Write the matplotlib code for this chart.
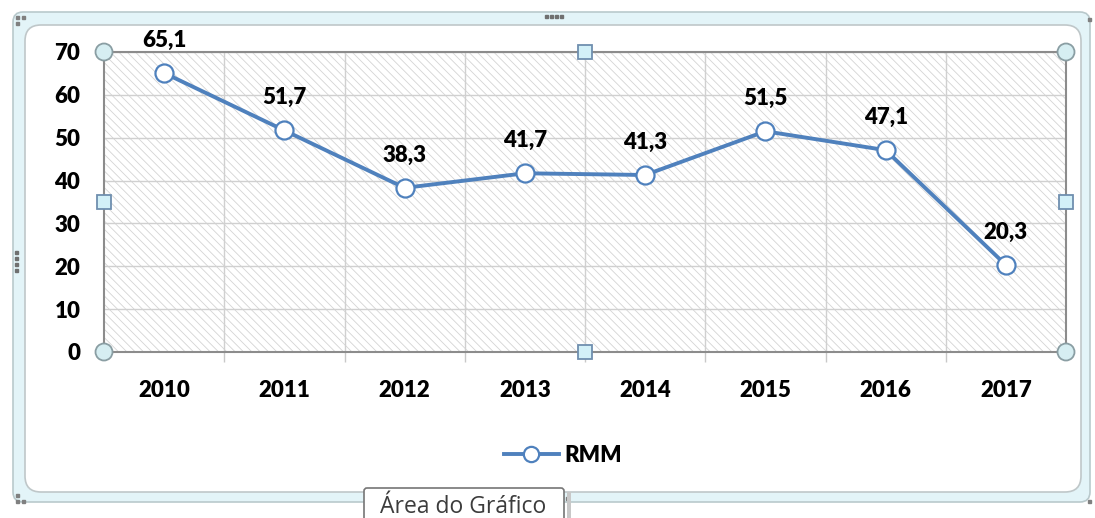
import matplotlib
matplotlib.use("Agg")
import matplotlib.pyplot as plt
from matplotlib.patches import FancyBboxPatch, Rectangle, Circle
from matplotlib.lines import Line2D

years = ["2010", "2011", "2012", "2013", "2014", "2015", "2016", "2017"]
rmm = [65.1, 51.7, 38.3, 41.7, 41.3, 51.5, 47.1, 20.3]
series_name = "RMM"
yticks = [0, 10, 20, 30, 40, 50, 60, 70]

W, H = 1095, 518
plt.rcParams['font.family'] = ['Lato', 'DejaVu Sans']
plt.rcParams['hatch.linewidth'] = 0.6
WEIGHT = 'heavy'

fig = plt.figure(figsize=(W / 100, H / 100), dpi=100)
fig.patch.set_facecolor('white')

def fx(px):
    return px / W

def fy(py):
    return 1 - py / H

# background axes in pixel coordinates
bg = fig.add_axes([0, 0, 1, 1], zorder=0)
bg.set_xlim(0, W)
bg.set_ylim(H, 0)
bg.axis('off')
bg.add_patch(FancyBboxPatch((13, 12), 1077, 490, boxstyle="round,pad=0,rounding_size=10",
                            facecolor='#E3F4F8', edgecolor='#B9C9CC', lw=1.2))
bg.add_patch(FancyBboxPatch((25, 25), 1056, 467, boxstyle="round,pad=0,rounding_size=16",
                            facecolor='white', edgecolor='#BFC7C9', lw=1.2))
for i in range(4):
    bg.add_patch(Rectangle((545 + i * 5, 15), 3, 3, color='#707070'))
    bg.add_patch(Rectangle((15, 251 + i * 6), 3, 3, color='#707070'))
for (x0, y0) in [(16, 16), (22, 16), (16, 22), (16, 494), (16, 500), (22, 500),
                 (1088, 18), (1088, 500), (560, 497), (566, 497)]:
    bg.add_patch(Rectangle((x0, y0), 3, 3, color='#808080'))

# axes
L, R, T, B = 104, 1066, 52, 352
ax = fig.add_axes([fx(L), fy(B), (R - L) / W, (B - T) / H], zorder=2)
ax.set_facecolor('white')
ax.add_patch(Rectangle((0, 0), 1, 1, transform=ax.transAxes, facecolor='white',
                       edgecolor='#D4D4D4', hatch='\\\\\\\\', lw=0, zorder=0))
x = list(range(len(years)))
ax.set_xlim(-0.5, len(years) - 0.5)
ax.set_ylim(0, 70)
ax.set_yticks(yticks)
ax.set_yticklabels([str(v) for v in yticks], fontsize=16, fontweight=WEIGHT)
ax.tick_params(axis='y', length=0, pad=17)
ax.set_xticks([i + 0.5 for i in range(len(years) - 1)])
ax.set_xticklabels([])
ax.tick_params(axis='x', which='major', length=7, color='#C8C8C8', width=1, direction='out')
ax.set_xticks(x, minor=True)
ax.set_xticklabels(years, minor=True, fontsize=16, fontweight=WEIGHT)
ax.tick_params(axis='x', which='minor', length=0, pad=20)
ax.grid(True, which='major', color='#D0D0D0', lw=1)
ax.set_axisbelow(True)
for s in ax.spines.values():
    s.set_color('#8C8C8C')
    s.set_linewidth(1.5)

ax.plot(x, rmm, color='#4F81BD', lw=2.8, marker='o', markersize=13,
        markerfacecolor='white', markeredgecolor='#4F81BD', markeredgewidth=1.6,
        zorder=5, clip_on=False, label=series_name)
for xi, v in zip(x, rmm):
    ax.annotate(f"{v:.1f}".replace('.', ','), (xi, v), xytext=(0, 23.5),
                textcoords='offset points', ha='center', va='center',
                fontsize=16, fontweight=WEIGHT, color='black', zorder=6)

# legend
fig.legend(handles=[Line2D([0], [0], color='#4F81BD', lw=2.8, marker='o', markersize=11,
                           markerfacecolor='white', markeredgecolor='#4F81BD',
                           markeredgewidth=1.6)],
           labels=[series_name], loc='center', bbox_to_anchor=(fx(563), fy(455)),
           frameon=False, prop={'weight': WEIGHT, 'size': 16}, handlelength=2.5,
           handletextpad=0.25)

# selection handles and tooltip overlay
hax = fig.add_axes([0, 0, 1, 1], zorder=10)
hax.set_xlim(0, W)
hax.set_ylim(H, 0)
hax.axis('off')
hax.patch.set_alpha(0)
for (px, py) in [(L, T), (R, T), (L, B), (R, B)]:
    hax.add_patch(Circle((px, py), 8.5, facecolor='#D6EEF2', edgecolor='#8A9EA3', lw=1.3))
for (px, py) in [(585, T), (585, B), (L, 202), (R, 202)]:
    hax.add_patch(Rectangle((px - 7, py - 7), 14, 14, facecolor='#D2F0F8',
                            edgecolor='#6F8FAF', lw=1.3))

hax.add_patch(Rectangle((567, 492), 4, 30, facecolor='#C8C8C8', edgecolor='none'))
hax.add_patch(FancyBboxPatch((364, 488), 200, 40, boxstyle="round,pad=0,rounding_size=3",
                             facecolor='white', edgecolor='#767676', lw=1.2))
hax.text(463, 507, "Área do Gráfico", ha='center', va='center', fontsize=16.5,
         family=['Open Sans', 'DejaVu Sans'], color='#3C3C3C')

fig.savefig("out.png", dpi=100)
